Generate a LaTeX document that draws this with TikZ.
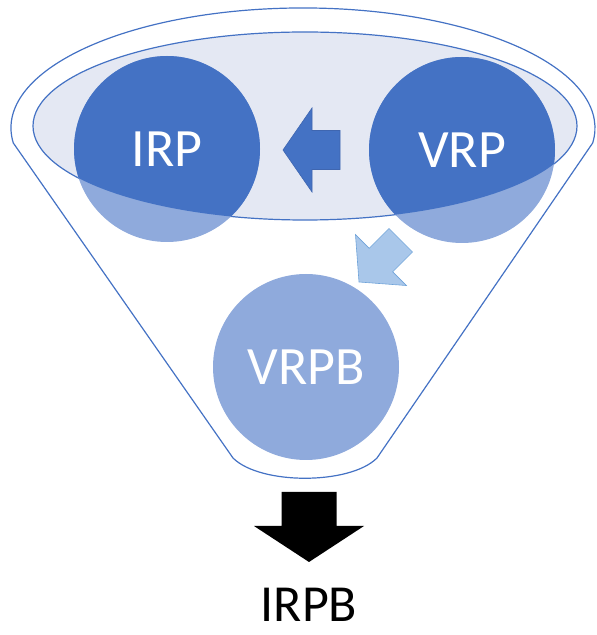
\documentclass[tikz,border=0pt]{standalone}
\usepackage{fontspec}
\setmainfont{Carlito}
\usetikzlibrary{shapes.geometric,positioning}
\definecolor{deep}{HTML}{4472C4}
\definecolor{pale}{HTML}{8FAADC}
\definecolor{haze}{HTML}{E4E8F3}
\definecolor{sky}{HTML}{A9C7EA}
\definecolor{skyline}{HTML}{6FA3D9}
\definecolor{edge}{HTML}{3F66B0}

\begin{document}
\begin{tikzpicture}[
  x=1pt, y=1pt,
  rim/.style={draw=deep, line width=1.2pt},
  disc/.style={circle, fill=pale, minimum size=186pt, inner sep=0pt, text=white, font=\fontsize{54}{60}\selectfont},
  topdisc/.style={path picture={\fill[deep] (band.center) ellipse[x radius=272pt, y radius=94pt];}},
  blockarrow/.style={line width=0.6pt, line join=miter}
]
\useasboundingbox (0,0) rectangle (597,635);
% funnel outline
\draw[rim] (13.3,492) arc[start angle=187.2, end angle=-7.2, x radius=292pt, y radius=120pt]
  -- (377,177) .. controls (350,150) and (260,150) .. (233,177) -- cycle;
\node[ellipse, rim, fill=haze, minimum width=544pt, minimum height=188pt, inner sep=0pt] (band) at (305,509) {};
\node[disc, topdisc] (irp) at (167,486) {IRP};
\node[disc, topdisc] (vrp) at (462,485) {VRP};
\node[disc] (vrpb) at (306,268) {VRPB};
% arrows
\filldraw[blockarrow, fill=deep, draw=edge] (283,485) -- ++(29,42) -- ++(0,-22.5) -- ++(28,0)
  -- ++(0,-39) -- ++(-28,0) -- ++(0,-22.5) -- cycle;
\begin{scope}[shift={(359,353)}, rotate=45]
  \filldraw[blockarrow, fill=sky, draw=skyline] (0,0) -- (31,36) -- (31,16.6) -- (59,16.6)
    -- (59,-16.6) -- (31,-16.6) -- (31,-36) -- cycle;
\end{scope}
\fill[black] (309,73) -- (364,109) -- (336.5,109) -- (336.5,143) -- (281.5,143) -- (281.5,109) -- (254,109) -- cycle;
\node[font=\fontsize{52}{60}\selectfont] (irpb) at (309,30) {IRPB};
\end{tikzpicture}
\end{document}
